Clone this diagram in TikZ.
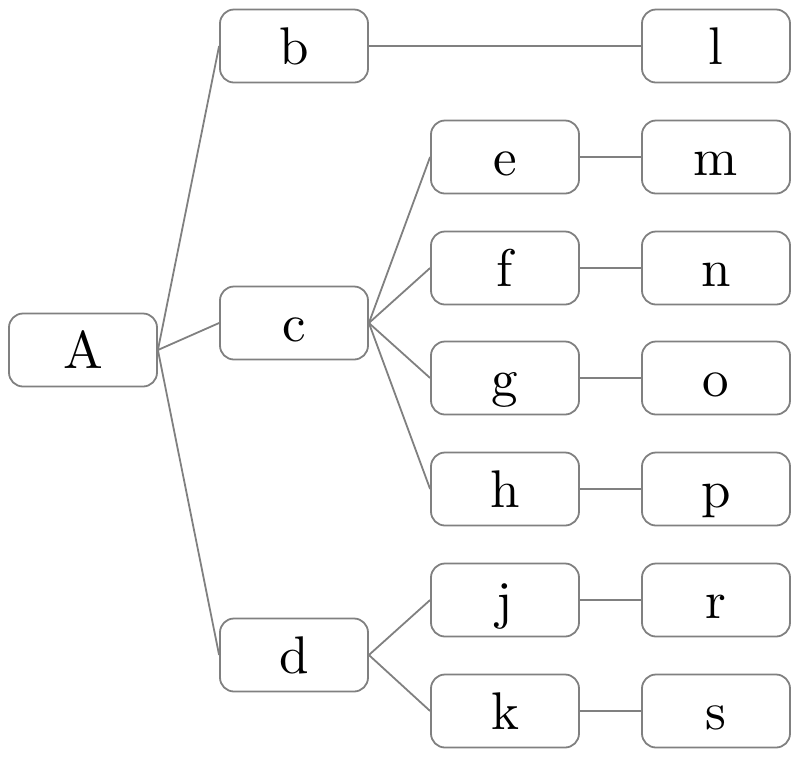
\documentclass[tikz,border=0pt]{standalone}
\newcommand\bigtxt[1]{\scalebox{2.65}{#1}}
\begin{document}
\begin{tikzpicture}[x=0.5pt,y=-0.5pt,
  box/.style={draw=gray,line width=0.9pt,rounded corners=7pt,minimum width=74pt,minimum height=36.5pt,inner sep=0pt,
    text height=22pt,text depth=4pt},
  link/.style={draw=gray,line width=0.9pt}]
\useasboundingbox (0,0) rectangle (800,757);
\node[box] (A) at (83,350) {\bigtxt{A}};
\node[box] (b) at (294,46) {\bigtxt{b}};
\node[box] (c) at (294,323) {\bigtxt{c}};
\node[box] (d) at (294,655) {\bigtxt{d}};
\node[box] (e) at (505,157) {\bigtxt{e}};
\node[box] (f) at (505,268) {\bigtxt{f}};
\node[box] (g) at (505,378) {\bigtxt{g}};
\node[box] (h) at (505,489) {\bigtxt{h}};
\node[box] (j) at (505,600) {\bigtxt{j}};
\node[box] (k) at (505,711) {\bigtxt{k}};
\node[box] (l) at (716,46) {\bigtxt{l}};
\node[box] (m) at (716,157) {\bigtxt{m}};
\node[box] (n) at (716,268) {\bigtxt{n}};
\node[box] (o) at (716,378) {\bigtxt{o}};
\node[box] (p) at (716,489) {\bigtxt{p}};
\node[box] (r) at (716,600) {\bigtxt{r}};
\node[box] (s) at (716,711) {\bigtxt{s}};
\foreach \u/\v in {A/b,A/c,A/d,b/l,c/e,c/f,c/g,c/h,d/j,d/k,e/m,f/n,g/o,h/p,j/r,k/s}
  \draw[link] (\u.east) -- (\v.west);
\end{tikzpicture}
\end{document}
